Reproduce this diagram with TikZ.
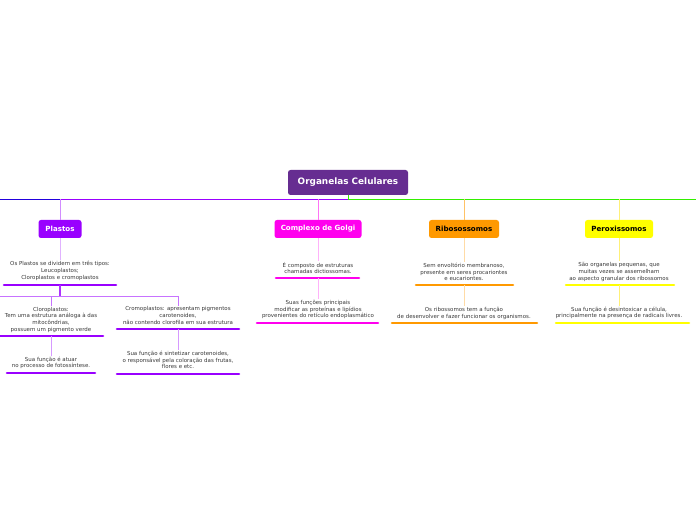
\documentclass[tikz,border=0pt]{standalone}
\usepackage{fontspec}
\setmainfont{DejaVu Sans}
\definecolor{rootc}{HTML}{662D91}
\definecolor{plast}{HTML}{9900FF}
\definecolor{golgi}{HTML}{FF00EE}
\definecolor{ribo}{HTML}{FF9900}
\definecolor{perox}{HTML}{FFFF00}
\definecolor{peroxl}{HTML}{FFF077}
\definecolor{mainl}{HTML}{33EE00}
\definecolor{leftl}{HTML}{2200DD}

\begin{document}
\begin{tikzpicture}[x=1bp,y=-1bp,
    box/.style={rounded corners=2.5bp, minimum height=18bp, inner xsep=4bp,
      font=\fontsize{7.1}{8}\selectfont\bfseries},
    txt/.style={align=center, text=black!78, inner sep=1bp,
      font=\fontsize{5.5}{6.7}\selectfont},
    link/.style={line width=0.8bp},
    uline/.style={line width=2.6bp, line cap=round}]
  \useasboundingbox (0,0) rectangle (696,520);

  % main line
  \node [box, fill=rootc, text=white, minimum width=120bp, minimum height=25bp,
    font=\fontsize{8.9}{10}\selectfont\bfseries] (root) at (348,182.5) {Organelas Celulares};
  \coordinate (hub) at (348,199);
  \draw [link, leftl] (0,199) -- (60,199);
  \draw [link, plast] (60,199) -- (hub);
  \draw [link, mainl] (hub) -- (696,199);
  \draw [link, mainl] (root.south) -- (hub);

  % Plastos
  \coordinate (plTop) at (60,199);
  \node [box, fill=plast, text=white, minimum width=43bp] (plastos) at (60,229) {Plastos};
  \draw [link, plast!45, rounded corners=2bp] (plTop) -- (plastos.north);
  \node [txt] (pl1) at (60,271) {Os Plastos se dividem em três tipos:\\Leucoplastos;\\Cloroplastos e cromoplastos};
  \draw [link, plast!30] (plastos.south) -- (pl1.north);
  \draw [uline, plast] (4,285) -- (116,285);
  \coordinate (pl1u) at (60,285);
  \coordinate (split) at (60,296);
  \draw [line width=1.6bp, plast!80] (pl1u) -- (split);
  \node [txt] (clo) at (51,319.5) {Cloroplastos:\\Tem uma estrutura análoga à das\\mitocôndrias,\\possuem um pigmento verde};
  \node [txt] (cro) at (178,315.5) {Cromoplastos: apresentam pigmentos\\carotenoides,\\não contendo clorofila em sua estrutura};
  \draw [link, plast!55] (0,296) -- (178,296);
  \draw [link, plast!55] (51,296) -- (clo.north);
  \draw [link, plast!55] (178,296) -- (cro.north);
  \draw [uline, plast] (0,336) -- (103,336);
  \draw [uline, plast] (117,329) -- (239,329);
  \coordinate (clou) at (51,336);
  \coordinate (crou) at (178,329);
  \node [txt] (clo2) at (51,363) {Sua função é atuar\\no processo de fotossíntese.};
  \node [txt] (cro2) at (178,360) {Sua função é sintetizar carotenoides,\\o responsável pela coloração das frutas,\\flores e etc.};
  \draw [link, plast!40] (clou) -- (clo2.north);
  \draw [link, plast!40] (crou) -- (cro2.north);
  \draw [uline, plast] (7,373) -- (95,373);
  \draw [uline, plast] (117,374) -- (239,374);

  % Complexo de Golgi
  \coordinate (goTop) at (318,199);
  \node [box, fill=golgi, text=white, minimum width=87bp] (golgi) at (318,229) {Complexo de Golgi};
  \draw [link, golgi!55, rounded corners=2bp] (goTop) -- (golgi.north);
  \node [txt] (go1) at (318,268) {É composto de estruturas\\chamadas dictiossomas.};
  \draw [link, golgi!30] (golgi.south) -- (go1.north);
  \draw [uline, golgi] (276,278) -- (359,278);
  \coordinate (go1u) at (318,278);
  \node [txt] (go2) at (318,309.5) {Suas funções principais\\modificar as proteínas e lipídios\\provenientes do retículo endoplasmático};
  \draw [link, golgi!30] (go1u) -- (go2.north);
  \draw [uline, golgi] (257,323) -- (378,323);

  % Ribossomos
  \coordinate (riTop) at (464,199);
  \node [box, fill=ribo, text=black, minimum width=70bp] (ribo) at (464,229) {Ribosossomos};
  \draw [link, ribo!60, rounded corners=2bp] (riTop) -- (ribo.north);
  \node [txt] (ri1) at (464,272) {Sem envoltório membranoso,\\presente em seres procariontes\\e eucariontes.};
  \draw [link, ribo!35] (ribo.south) -- (ri1.north);
  \draw [uline, ribo] (416,285) -- (513,285);
  \coordinate (ri1u) at (464,285);
  \node [txt] (ri2) at (464,313.5) {Os ribossomos tem a função\\de desenvolver e fazer funcionar os organismos.};
  \draw [link, ribo!35] (ri1u) -- (ri2.north);
  \draw [uline, ribo] (392,323) -- (537,323);

  % Peroxissomos
  \coordinate (peTop) at (619,199);
  \node [box, fill=perox, text=black, minimum width=68bp] (perox) at (619,229) {Peroxissomos};
  \draw [link, peroxl, rounded corners=2bp] (peTop) -- (perox.north);
  \node [txt] (pe1) at (619,272) {São organelas pequenas, que\\muitas vezes se assemelham\\ao aspecto granular dos ribossomos};
  \draw [link, peroxl] (perox.south) -- (pe1.north);
  \draw [uline, perox] (566,285) -- (674,285);
  \coordinate (pe1u) at (619,285);
  \node [txt] (pe2) at (619,313) {Sua função é desintoxicar a célula,\\principalmente na presença de radicais livres.};
  \draw [link, peroxl] (pe1u) -- (pe2.north);
  \draw [uline, perox] (556,323) -- (689,323);
\end{tikzpicture}
\end{document}
